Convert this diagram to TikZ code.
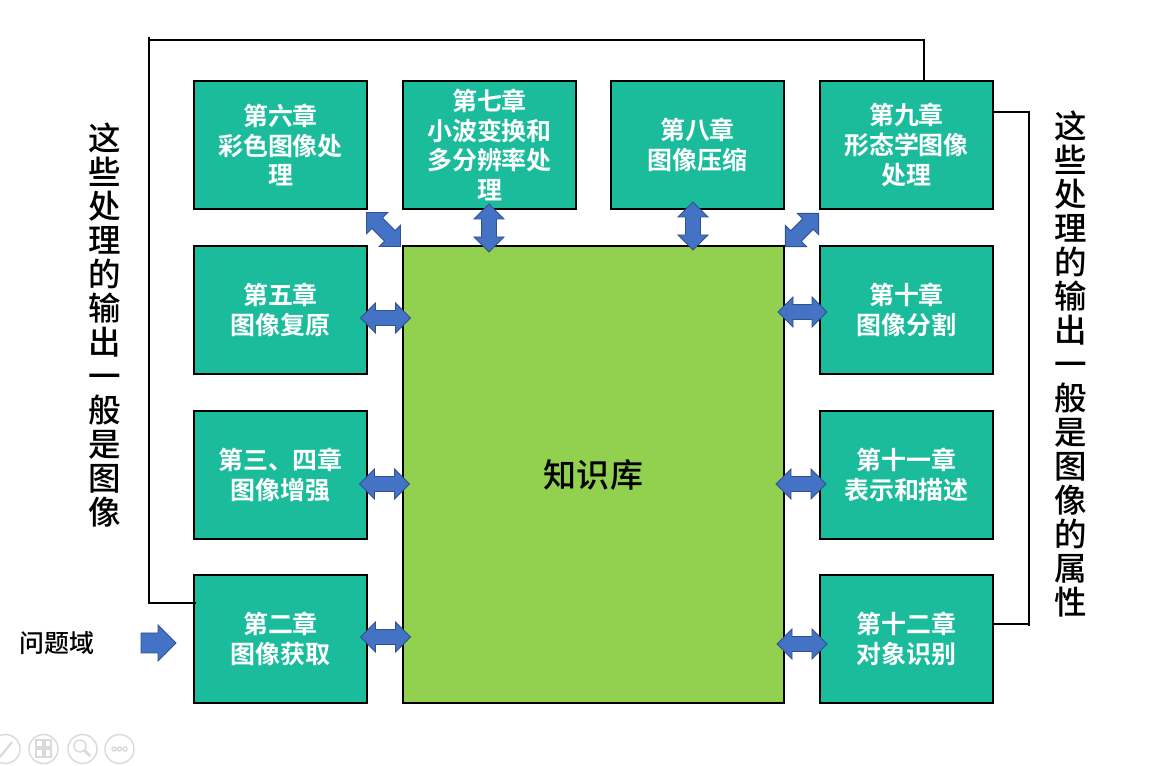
\documentclass[tikz,border=0pt]{standalone}
\usepackage{fontspec}
\setmainfont{Noto Sans CJK SC}[BoldFont={Noto Sans CJK SC Bold}]
\newfontfamily\medfont{Noto Sans CJK SC Medium}
\definecolor{teal1}{HTML}{1BBC9B}
\definecolor{green1}{HTML}{92D050}
\definecolor{arrfill}{HTML}{4472C4}
\definecolor{arrline}{HTML}{2F528F}
\definecolor{icon}{HTML}{D9D9D9}
\begin{document}
\begin{tikzpicture}[x=0.02cm,y=-0.02cm,
  box/.style={draw=black,line width=0.8pt,fill=teal1,minimum width=3.46cm,minimum height=2.56cm,inner sep=0pt,
    align=center,text=white,font=\fontsize{14.2pt}{17pt}\selectfont\bfseries},
  kb/.style={draw=black,line width=0.8pt,fill=green1,minimum width=7.62cm,minimum height=9.14cm,inner sep=0pt,
    font=\medfont\fontsize{18.8pt}{22pt}\selectfont},
  side/.style={align=center,inner sep=0pt,font=\medfont\fontsize{18.5pt}{19.35pt}\selectfont},
  bline/.style={draw=black,line width=0.8pt},
  arr/.style={fill=arrfill,draw=arrline,line width=0.5pt,line join=miter},
  pics/dbl/.style={code={
    \path[arr] (-#1/2,0) -- (-#1/2+15,15) -- (-#1/2+15,7.5) -- (#1/2-15,7.5) -- (#1/2-15,15) -- (#1/2,0)
      -- (#1/2-15,-15) -- (#1/2-15,-7.5) -- (-#1/2+15,-7.5) -- (-#1/2+15,-15) -- cycle;
  }},
  iconc/.style={draw=icon,line width=0.8pt}
]
\useasboundingbox (0,0) rectangle (1160,766);

% boxes
\node[box] (c6) at (280.5,145) {第六章\\彩色图像处\\理};
\node[box] (c7) at (489.5,145) {第七章\\小波变换和\\多分辨率处\\理};
\node[box] (c8) at (697.5,145) {第八章\\图像压缩};
\node[box] (c9) at (906.5,145) {第九章\\形态学图像\\处理};
\node[box] (c5) at (280.5,310) {第五章\\图像复原};
\node[box] (c34) at (280.5,475) {第三、四章\\图像增强};
\node[box] (c2) at (280.5,639) {第二章\\图像获取};
\node[box] (c10) at (906.5,310) {第十章\\图像分割};
\node[box] (c11) at (906.5,475) {第十一章\\表示和描述};
\node[box] (c12) at (906.5,639) {第十二章\\对象识别};
\node[kb] (kb) at (593.5,474.5) {知识库};

% side texts
\node[side] (lt) at (105,325) {这\\些\\处\\理\\的\\输\\出\\一\\般\\是\\图\\像};
\node[side] (rt) at (1071,364) {这\\些\\处\\理\\的\\输\\出\\一\\般\\是\\图\\像\\的\\属\\性};
\node[inner sep=0pt,font=\medfont\fontsize{14.2pt}{17pt}\selectfont] (pd) at (57,643) {问题域};

% bracket lines
\coordinate (tl) at (149,40);
\coordinate (tr) at (924,40);
\coordinate (lb) at (149,603);
\coordinate (rtop) at (1029,112);
\coordinate (rbot) at (1029,624);
\draw[bline] (149,37) -- (lb) -- ([xshift=0.06cm]lb -| c2.west);
\draw[bline] (tl) -- (tr) -- (tr |- c9.north);
\draw[bline] (rtop -| c9.east) -- (rtop) -- (1029,626);
\draw[bline] (rbot -| c12.east) -- (rbot);

% block arrows
\pic at (385.5,318) {dbl=50};
\pic at (384.5,484) {dbl=50};
\pic at (385.5,637) {dbl=50};
\pic at (802.5,312) {dbl=49};
\pic at (801,484) {dbl=50};
\pic at (802,644) {dbl=50};
\pic[rotate=90] at (489,228) {dbl=48};
\pic[rotate=90] at (693,226) {dbl=48};
\pic[rotate=-45] at (383.5,229.5) {dbl=48};
\pic[rotate=45] at (802,230) {dbl=47};
\path[arr] (141,633) -- (158,633) -- (158,625) -- (176,643) -- (158,661) -- (158,653) -- (141,653) -- cycle;

% faint presentation icons
\draw[iconc] (5.5,749) circle (14.5);
\draw[iconc] (43.5,749) circle (14.5);
\draw[iconc] (82.5,749) circle (14.5);
\draw[iconc] (119.5,749) circle (14.5);
\draw[iconc,line width=1.2pt] (0,757) -- (12,742);
\draw[iconc] (36,740) rectangle (43,747) (45,740) rectangle (51,747) (36,749) rectangle (43,757) (45,749) rectangle (51,757);
\draw[iconc] (80,746) circle (6);
\draw[iconc,line width=1.6pt] (84.5,750.5) -- (90,756);
\draw[iconc] (114,749) circle (2) (119.5,749) circle (2) (125,749) circle (2);
\end{tikzpicture}
\end{document}
